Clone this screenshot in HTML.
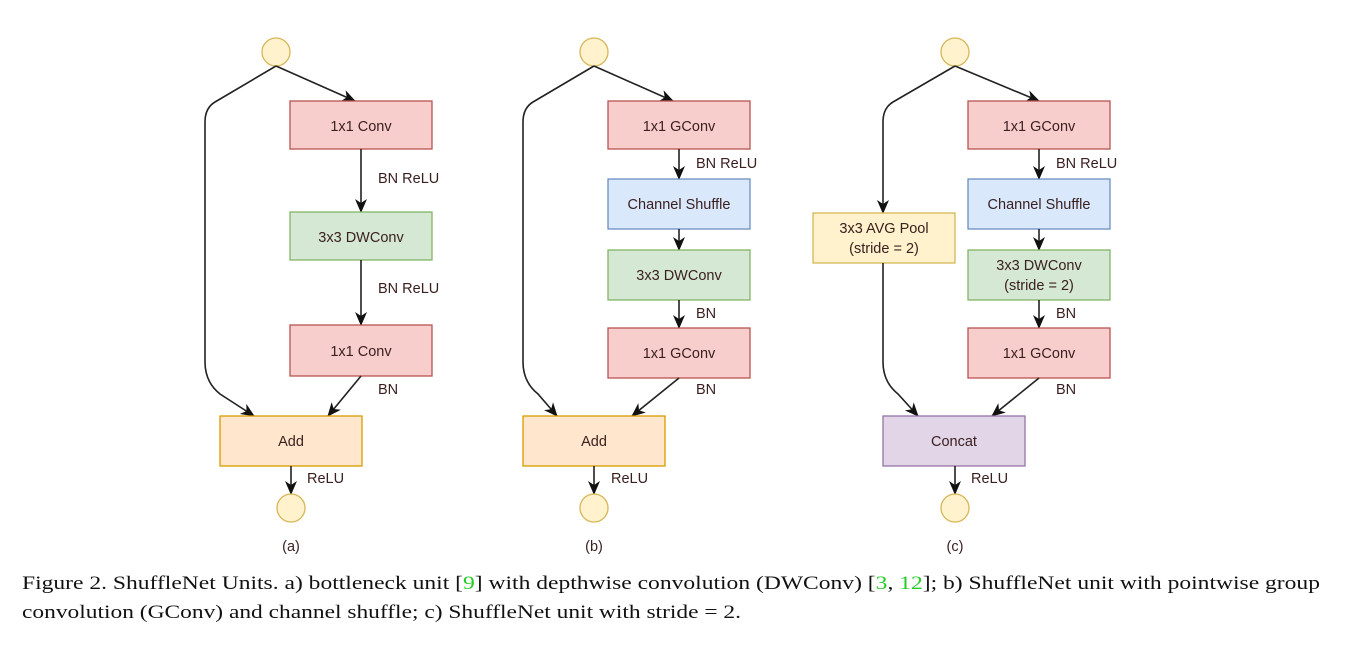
<!DOCTYPE html>
<html><head><meta charset="utf-8"><style>
html,body{margin:0;padding:0;background:#fff;}
svg{display:block;}
.t{font-family:"Liberation Sans",Arial,sans-serif;font-size:14.5px;fill:#3b2020;}
.c{text-anchor:middle;}
.cap{font-family:"Times New Roman","Liberation Serif",serif;font-size:19px;fill:#111;}
.ln{stroke:#222;stroke-width:1.6;fill:none;}
</style></head><body>
<svg width="1364" height="669" viewBox="0 0 1364 669" xmlns="http://www.w3.org/2000/svg">
<defs>
<marker id="ah" markerWidth="14" markerHeight="12" refX="13" refY="6" orient="auto" markerUnits="userSpaceOnUse">
<path d="M0,0 L14,6 L0,12 L4,6 Z" fill="#111"/>
</marker>
</defs>
<rect width="1364" height="669" fill="#fff"/>

<!-- ===== (a) ===== -->
<circle cx="276" cy="52" r="14" fill="#fff2cc" stroke="#d6b656" stroke-width="1.3"/>
<path class="ln" d="M276,66 L355,101" marker-end="url(#ah)"/>
<path class="ln" d="M276,66 L215,102 Q205,108 205,122 L205,362 Q205,382 220,394 L254,416" marker-end="url(#ah)"/>
<rect x="290" y="101" width="142" height="48" fill="#f8cecc" stroke="#b85450" stroke-width="1.3"/>
<text class="t c" x="361" y="131">1x1 Conv</text>
<path class="ln" d="M361,149 L361,212" marker-end="url(#ah)"/>
<text class="t" x="378" y="183">BN ReLU</text>
<rect x="290" y="212" width="142" height="48" fill="#d5e8d4" stroke="#82b366" stroke-width="1.3"/>
<text class="t c" x="361" y="242">3x3 DWConv</text>
<path class="ln" d="M361,260 L361,325" marker-end="url(#ah)"/>
<text class="t" x="378" y="293">BN ReLU</text>
<rect x="290" y="325" width="142" height="51" fill="#f8cecc" stroke="#b85450" stroke-width="1.3"/>
<text class="t c" x="361" y="356">1x1 Conv</text>
<path class="ln" d="M361,376 L328,416" marker-end="url(#ah)"/>
<text class="t" x="378" y="394">BN</text>
<rect x="220" y="416" width="142" height="50" fill="#ffe6cc" stroke="#d79b00" stroke-width="1.3"/>
<text class="t c" x="291" y="446">Add</text>
<path class="ln" d="M291,466 L291,494" marker-end="url(#ah)"/>
<text class="t" x="307" y="483">ReLU</text>
<circle cx="291" cy="508" r="14" fill="#fff2cc" stroke="#d6b656" stroke-width="1.3"/>
<text class="t c" x="291" y="551">(a)</text>

<!-- ===== (b) ===== -->
<circle cx="594" cy="52" r="14" fill="#fff2cc" stroke="#d6b656" stroke-width="1.3"/>
<path class="ln" d="M594,66 L673,101" marker-end="url(#ah)"/>
<path class="ln" d="M594,66 L533,102 Q523,108 523,122 L523,362 Q523,382 538,394 L557,416" marker-end="url(#ah)"/>
<rect x="608" y="101" width="142" height="48" fill="#f8cecc" stroke="#b85450" stroke-width="1.3"/>
<text class="t c" x="679" y="131">1x1 GConv</text>
<path class="ln" d="M679,149 L679,179" marker-end="url(#ah)"/>
<text class="t" x="696" y="168">BN ReLU</text>
<rect x="608" y="179" width="142" height="50" fill="#dae8fc" stroke="#6c8ebf" stroke-width="1.3"/>
<text class="t c" x="679" y="209">Channel Shuffle</text>
<path class="ln" d="M679,229 L679,250" marker-end="url(#ah)"/>
<rect x="608" y="250" width="142" height="50" fill="#d5e8d4" stroke="#82b366" stroke-width="1.3"/>
<text class="t c" x="679" y="280">3x3 DWConv</text>
<path class="ln" d="M679,300 L679,328" marker-end="url(#ah)"/>
<text class="t" x="696" y="318">BN</text>
<rect x="608" y="328" width="142" height="50" fill="#f8cecc" stroke="#b85450" stroke-width="1.3"/>
<text class="t c" x="679" y="358">1x1 GConv</text>
<path class="ln" d="M679,378 L632,416" marker-end="url(#ah)"/>
<text class="t" x="696" y="394">BN</text>
<rect x="523" y="416" width="142" height="50" fill="#ffe6cc" stroke="#d79b00" stroke-width="1.3"/>
<text class="t c" x="594" y="446">Add</text>
<path class="ln" d="M594,466 L594,494" marker-end="url(#ah)"/>
<text class="t" x="611" y="483">ReLU</text>
<circle cx="594" cy="508" r="14" fill="#fff2cc" stroke="#d6b656" stroke-width="1.3"/>
<text class="t c" x="594" y="551">(b)</text>

<!-- ===== (c) ===== -->
<circle cx="955" cy="52" r="14" fill="#fff2cc" stroke="#d6b656" stroke-width="1.3"/>
<path class="ln" d="M955,66 L1039,101" marker-end="url(#ah)"/>
<path class="ln" d="M955,66 L893,102 Q883,108 883,122 L883,213" marker-end="url(#ah)"/>
<rect x="813" y="213" width="142" height="50" fill="#fff2cc" stroke="#d6b656" stroke-width="1.3"/>
<text class="t c" x="884" y="233">3x3 AVG Pool</text>
<text class="t c" x="884" y="253">(stride = 2)</text>
<path class="ln" d="M883,263 L883,362 Q883,382 898,394 L918,416" marker-end="url(#ah)"/>
<rect x="968" y="101" width="142" height="48" fill="#f8cecc" stroke="#b85450" stroke-width="1.3"/>
<text class="t c" x="1039" y="131">1x1 GConv</text>
<path class="ln" d="M1039,149 L1039,179" marker-end="url(#ah)"/>
<text class="t" x="1056" y="168">BN ReLU</text>
<rect x="968" y="179" width="142" height="50" fill="#dae8fc" stroke="#6c8ebf" stroke-width="1.3"/>
<text class="t c" x="1039" y="209">Channel Shuffle</text>
<path class="ln" d="M1039,229 L1039,250" marker-end="url(#ah)"/>
<rect x="968" y="250" width="142" height="50" fill="#d5e8d4" stroke="#82b366" stroke-width="1.3"/>
<text class="t c" x="1039" y="270">3x3 DWConv</text>
<text class="t c" x="1039" y="290">(stride = 2)</text>
<path class="ln" d="M1039,300 L1039,328" marker-end="url(#ah)"/>
<text class="t" x="1056" y="318">BN</text>
<rect x="968" y="328" width="142" height="50" fill="#f8cecc" stroke="#b85450" stroke-width="1.3"/>
<text class="t c" x="1039" y="358">1x1 GConv</text>
<path class="ln" d="M1039,378 L992,416" marker-end="url(#ah)"/>
<text class="t" x="1056" y="394">BN</text>
<rect x="883" y="416" width="142" height="50" fill="#e1d5e7" stroke="#9673a6" stroke-width="1.3"/>
<text class="t c" x="954" y="446">Concat</text>
<path class="ln" d="M955,466 L955,494" marker-end="url(#ah)"/>
<text class="t" x="971" y="483">ReLU</text>
<circle cx="955" cy="508" r="14" fill="#fff2cc" stroke="#d6b656" stroke-width="1.3"/>
<text class="t c" x="955" y="551">(c)</text>

<!-- caption -->
<text class="cap" x="22" y="589" textLength="1298" lengthAdjust="spacingAndGlyphs">Figure 2. ShuffleNet Units. a) bottleneck unit [<tspan fill="#22cc22">9</tspan>] with depthwise convolution (DWConv) [<tspan fill="#22cc22">3</tspan>, <tspan fill="#22cc22">12</tspan>]; b) ShuffleNet unit with pointwise group</text>
<text class="cap" x="22" y="618" textLength="719" lengthAdjust="spacingAndGlyphs">convolution (GConv) and channel shuffle; c) ShuffleNet unit with stride = 2.</text>
</svg>
</body></html>
